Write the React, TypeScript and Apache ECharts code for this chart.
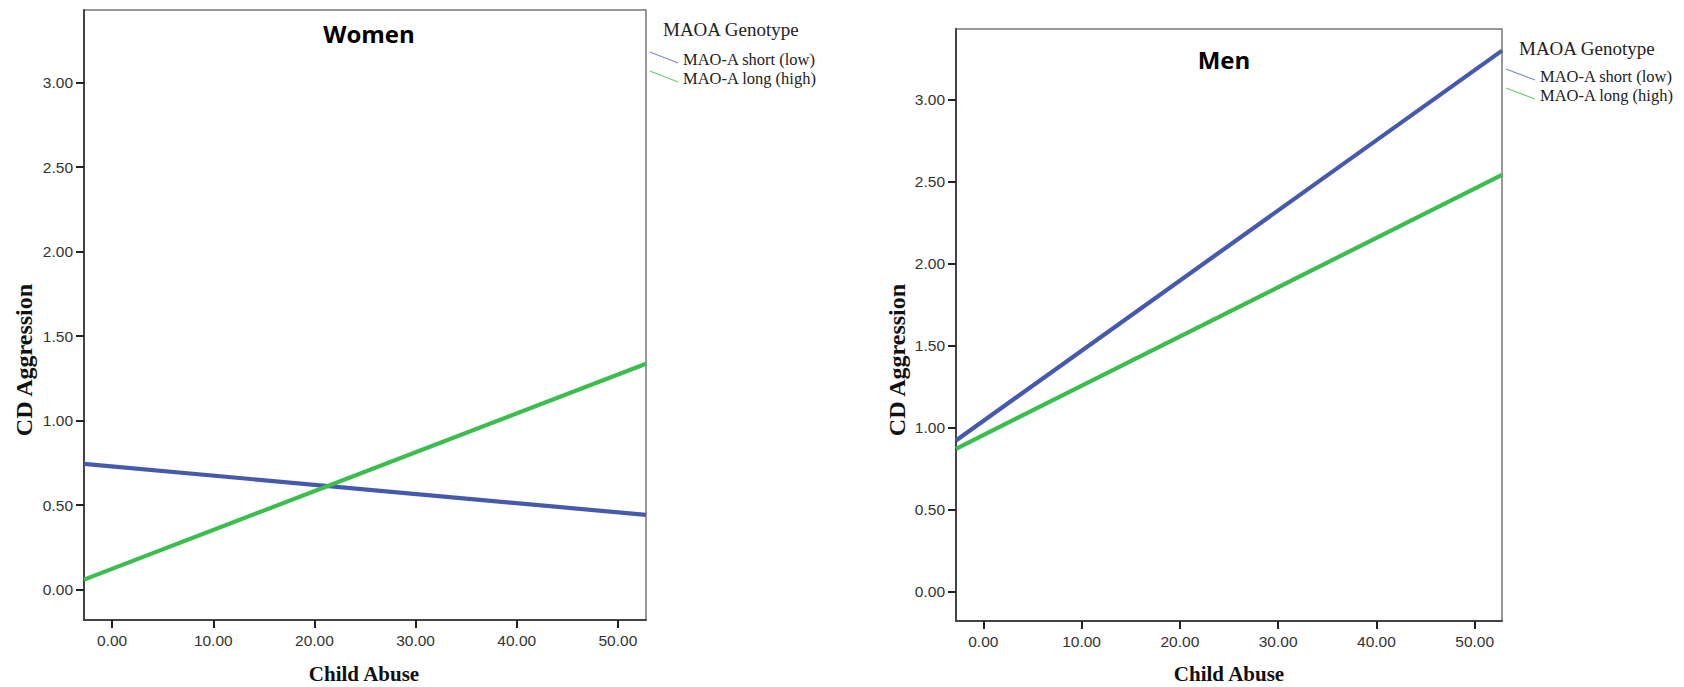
import React, { useEffect, useRef } from "react";
import * as echarts from "echarts";

// ---- data ----
const panelTitles = ["Women", "Men"];
const legendTitle = "MAOA Genotype";
const seriesNames = ["MAO-A short (low)", "MAO-A long (high)"];
const xAxisName = "Child Abuse";
const yAxisName = "CD Aggression";

// x values at the two ends of the fitted lines (axis extent)
const childAbuseEnds = [-2.78, 52.78];
const womenShort = [0.744, 0.442];
const womenLong = [0.059, 1.336];
const menShort = [0.921, 3.298];
const menLong = [0.87, 2.54];

const xTicks = [0, 10, 20, 30, 40, 50];
const yTicks = [0, 0.5, 1, 1.5, 2, 2.5, 3];
const yRange = [-0.18, 3.43];

const BLUE = "#4559ad";
const GREEN = "#3cbd4f";
const LEG_BLUE = "#7e8cc4";
const LEG_GREEN = "#6cc97a";

const toPairs = (ys: number[]) => childAbuseEnds.map((x, i) => [x, ys[i]]);

export default function App() {
  const ref = useRef<HTMLDivElement>(null);

  useEffect(() => {
    if (!ref.current) return;
    const chart = echarts.init(ref.current, undefined, { renderer: "svg" });

    const grids = [
      { left: 84, top: 10, width: 562, height: 610 },
      { left: 956, top: 29, width: 546, height: 592 },
    ];

    const labelStyle = {
      fontFamily: "Liberation Sans",
      fontSize: 15.5,
      color: "#333",
    };

    const mkX = (gi: number) => ({
      type: "value",
      gridIndex: gi,
      min: childAbuseEnds[0],
      max: childAbuseEnds[1],
      axisLine: { show: true, onZero: false, lineStyle: { color: "#444", width: 2 } },
      axisTick: { show: true, customValues: xTicks, length: 8, inside: false, lineStyle: { color: "#222", width: 2 } },
      axisLabel: {
        show: true,
        customValues: xTicks,
        formatter: (v: number) => v.toFixed(2),
        margin: 12,
        ...labelStyle,
      },
      splitLine: { show: false },
    });

    const mkY = (gi: number) => ({
      type: "value",
      gridIndex: gi,
      min: yRange[0],
      max: yRange[1],
      axisLine: { show: true, onZero: false, lineStyle: { color: "#444", width: 2 } },
      axisTick: { show: true, customValues: yTicks, length: 8, inside: false, lineStyle: { color: "#222", width: 2 } },
      axisLabel: {
        show: true,
        customValues: yTicks,
        formatter: (v: number) => v.toFixed(2),
        margin: 11,
        ...labelStyle,
      },
      splitLine: { show: false },
    });

    const panelSeries = [
      [womenShort, womenLong],
      [menShort, menLong],
    ];
    const colors = [BLUE, GREEN];

    const series: any[] = [];
    panelSeries.forEach((pair, gi) => {
      pair.forEach((vals, si) => {
        series.push({
          type: "line",
          name: seriesNames[si],
          xAxisIndex: gi,
          yAxisIndex: gi,
          data: toPairs(vals),
          symbol: "none",
          clip: true,
          lineStyle: { color: colors[si], width: 4.2 },
          z: 3,
        });
      });
    });

    const legendSpecs = [
      { titleX: 663, titleY: 29, lineX0: 650, lineX1: 678, textX: 683, ys: [59, 78] },
      { titleX: 1519, titleY: 48, lineX0: 1506, lineX1: 1535, textX: 1540, ys: [76, 95] },
    ];
    const legColors = [LEG_BLUE, LEG_GREEN];

    const graphics: any[] = [];
    legendSpecs.forEach((L) => {
      graphics.push({
        type: "text",
        x: L.titleX,
        y: L.titleY,
        style: {
          text: legendTitle,
          font: "19px 'Liberation Serif'",
          fill: "#222",
          align: "left",
          verticalAlign: "middle",
        },
      });
      seriesNames.forEach((nm, i) => {
        const y = L.ys[i];
        graphics.push({
          type: "line",
          shape: { x1: L.lineX0, y1: y - 7, x2: L.lineX1, y2: y + 4 },
          style: { stroke: legColors[i], lineWidth: 1.2 },
        });
        graphics.push({
          type: "text",
          x: L.textX,
          y: y,
          style: {
            text: nm,
            font: "16.5px 'Liberation Serif'",
            fill: "#222",
            align: "left",
            verticalAlign: "middle",
          },
        });
      });
    });

    // panel titles
    const titlePos = [
      [369, 33],
      [1224, 59],
    ];
    panelTitles.forEach((t, i) => {
      graphics.push({
        type: "text",
        x: titlePos[i][0],
        y: titlePos[i][1],
        z: 10,
        style: {
          text: t,
          font: "bold 24px 'Open Sans'",
          fill: "#000",
          align: "center",
          verticalAlign: "middle",
        },
      });
    });

    // axis names
    const xNamePos = [
      [364, 674],
      [1229, 674],
    ];
    const yNamePos = [
      [24, 360],
      [897, 360],
    ];
    [0, 1].forEach((i) => {
      graphics.push({
        type: "text",
        x: xNamePos[i][0],
        y: xNamePos[i][1],
        style: {
          text: xAxisName,
          font: "bold 21px 'Liberation Serif'",
          fill: "#111",
          align: "center",
          verticalAlign: "middle",
        },
      });
      graphics.push({
        type: "text",
        x: yNamePos[i][0],
        y: yNamePos[i][1],
        rotation: Math.PI / 2,
        style: {
          text: yAxisName,
          font: "bold 24px 'Liberation Serif'",
          fill: "#111",
          align: "center",
          verticalAlign: "middle",
        },
      });
    });

    chart.setOption({
      animation: false,
      backgroundColor: "#fff",
      grid: grids.map((g) => ({ ...g, show: true, borderColor: "#777", borderWidth: 1.5, backgroundColor: "transparent" })),
      xAxis: [mkX(0), mkX(1)],
      yAxis: [mkY(0), mkY(1)],
      series,
      graphic: graphics,
    });

    return () => chart.dispose();
  }, []);

  return (
    <div
      ref={ref}
      style={{ position: "fixed", left: 0, top: 0, width: 1684, height: 687, background: "#fff" }}
    />
  );
}
